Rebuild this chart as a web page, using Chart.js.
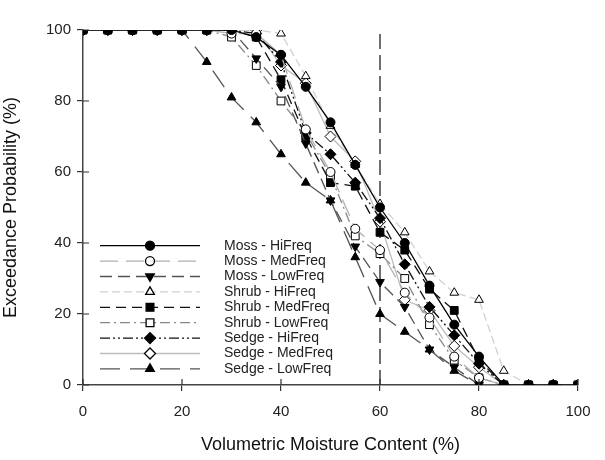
<!DOCTYPE html>
<html>
<head>
<meta charset="utf-8">
<script src="https://cdn.jsdelivr.net/npm/chart.js@4/dist/chart.umd.min.js"></script>
<style>
  html, body { margin: 0; padding: 0; background: #fff; }
  #wrap { width: 605px; height: 460px; }
</style>
</head>
<body>
<div id="wrap"><canvas id="chart" width="605" height="460"></canvas></div>
<script>
// Moisture content (%) for every point of every curve
const moisture = [0, 5, 10, 15, 20, 25, 30, 35, 40, 45, 50, 55, 60, 65, 70, 75, 80, 85, 90, 95, 100];

// Exceedance probability (%) per series
const mossHi   = [100, 100, 100, 100, 100, 100, 100, 98, 93, 84, 74, 62, 50, 40, 28, 17, 8, 0, 0, 0, 0];
const mossMed  = [100, 100, 100, 100, 100, 100, 99, 99, 93, 72, 60, 44, 38, 26, 19, 8, 2, 0, 0, 0, 0];
const mossLow  = [100, 100, 100, 100, 100, 100, 100, 92, 84, 68, 52, 39, 29, 22, 10, 5, 0, 0, 0, 0, 0];
const shrubHi  = [100, 100, 100, 100, 100, 100, 100, 100, 99, 87, 73, 62, 51, 43, 32, 26, 24, 4, 0, 0, 0];
const shrubMed = [100, 100, 100, 100, 100, 100, 100, 98, 86, 70, 57, 56, 43, 38, 27, 21, 7, 0, 0, 0, 0];
const shrubLow = [100, 100, 100, 100, 100, 100, 98, 90, 80, 71, 59, 42, 37, 30, 17, 7, 2, 0, 0, 0, 0];
const sedgeHi  = [100, 100, 100, 100, 100, 100, 100, 99, 91, 71, 65, 57, 47, 34, 22, 14, 6, 0, 0, 0, 0];
const sedgeMed = [100, 100, 100, 100, 100, 100, 100, 100, 90, 85, 70, 63, 46, 24, 21, 11, 5, 0, 0, 0, 0];
const sedgeLow = [100, 100, 100, 100, 100, 91, 81, 74, 65, 57, 52, 36, 20, 15, 10, 4, 0, 0, 0, 0, 0];

// reference line at 60 %
const refLineX = [60, 60];
const refLineY = [0, 100];

const xTicks = [0, 20, 40, 60, 80, 100];
const yTicks = [0, 20, 40, 60, 80, 100];

const FONT = '"Liberation Sans", Arial, sans-serif';

function pts(ys) {
    return ys.map((y, i) => ({ x: moisture[i], y: y }));
}

function series(label, ys, color, dash, style, filled, rot, r) {
    return {
        label: label,
        data: pts(ys),
        showLine: true,
        borderColor: color,
        borderWidth: 1.3,
        borderDash: dash,
        pointStyle: style,
        pointRotation: rot || 0,
        pointRadius: r || 4.5,
        pointHoverRadius: r || 4.5,
        pointBackgroundColor: filled ? '#000' : '#fff',
        pointBorderColor: '#000',
        pointBorderWidth: 1,
        tension: 0
    };
}

const datasets = [
    series('Moss - HiFreq', mossHi, '#000', [], 'circle', true),
    series('Moss - MedFreq', mossMed, '#b0b0b0', [18, 8], 'circle', false),
    series('Moss - LowFreq', mossLow, '#555', [12, 6], 'triangle', true, 180, 5),
    series('Shrub - HiFreq', shrubHi, '#d0d0d0', [8, 4], 'triangle', false, 0, 5),
    series('Shrub - MedFreq', shrubMed, '#111', [10, 6], 'rect', true, 0, 5.5),
    series('Shrub - LowFreq', shrubLow, '#888', [10, 4, 2, 4], 'rect', false, 0, 5.5),
    series('Sedge - HiFreq', sedgeHi, '#111', [10, 3, 2, 3, 2, 3], 'rectRot', true, 0, 5.5),
    series('Sedge - MedFreq', sedgeMed, '#bdbdbd', [], 'rectRot', false, 0, 5.5),
    series('Sedge - LowFreq', sedgeLow, '#555', [20, 10], 'triangle', true, 0, 5)
];

datasets.push({
    label: '',
    data: refLineX.map((x, i) => ({ x: x, y: refLineY[i] })),
    showLine: true,
    borderColor: '#222',
    borderWidth: 1.3,
    borderDash: [15, 6],
    pointRadius: 0,
    pointHoverRadius: 0
});

// inward half of the tick marks
const innerTicks = {
    id: 'innerTicks',
    afterDatasetsDraw(chart) {
        const { ctx, chartArea, scales } = chart;
        ctx.save();
        ctx.strokeStyle = '#333';
        ctx.lineWidth = 1.2;
        ctx.beginPath();
        xTicks.forEach(v => {
            const px = scales.x.getPixelForValue(v);
            ctx.moveTo(px, chartArea.bottom);
            ctx.lineTo(px, chartArea.bottom - 6);
        });
        yTicks.forEach(v => {
            const py = scales.y.getPixelForValue(v);
            ctx.moveTo(chartArea.left, py);
            ctx.lineTo(chartArea.left + 6, py);
        });
        ctx.stroke();
        ctx.restore();
    }
};

// legend drawn inside the plot: line sample, marker, label
const insideLegend = {
    id: 'insideLegend',
    afterDraw(chart) {
        const { ctx, chartArea } = chart;
        const x0 = chartArea.left + 17;
        const x1 = chartArea.left + 117;
        const xm = chartArea.left + 67;
        const xt = chartArea.left + 141;
        let y = chartArea.top + 215.7;
        ctx.save();
        chart.data.datasets.forEach(ds => {
            if (!ds.label) return;
            ctx.strokeStyle = ds.borderColor;
            ctx.lineWidth = ds.borderWidth;
            ctx.setLineDash(ds.borderDash);
            ctx.beginPath();
            ctx.moveTo(x0, y);
            ctx.lineTo(x1, y);
            ctx.stroke();
            ctx.setLineDash([]);
            ctx.fillStyle = ds.pointBackgroundColor;
            ctx.strokeStyle = ds.pointBorderColor;
            Chart.helpers.drawPoint(ctx, {
                pointStyle: ds.pointStyle,
                rotation: ds.pointRotation,
                radius: ds.pointRadius,
                borderWidth: 1
            }, xm, y);
            ctx.fillStyle = '#222';
            ctx.font = '14px ' + FONT;
            ctx.textBaseline = 'middle';
            ctx.fillText(ds.label, xt, y);
            y += 15.4;
        });
        ctx.restore();
    }
};

new Chart(document.getElementById('chart'), {
    type: 'scatter',
    data: { datasets: datasets },
    plugins: [innerTicks, insideLegend],
    options: {
        responsive: false,
        animation: false,
        layout: { padding: { left: 0, right: 27, top: 30, bottom: 0 } },
        plugins: {
            legend: { display: false },
            tooltip: { enabled: false }
        },
        scales: {
            x: {
                type: 'linear',
                min: 0,
                max: 100,
                afterBuildTicks: (s) => { s.ticks = xTicks.map(v => ({ value: v })); },
                afterFit: (s) => { s.height = 75; },
                border: { color: '#444', width: 1.5 },
                grid: { drawOnChartArea: false, tickLength: 6, color: '#333', lineWidth: 1.2 },
                ticks: { color: '#222', font: { size: 15, family: FONT }, padding: 12 },
                title: {
                    display: true,
                    text: 'Volumetric Moisture Content (%)',
                    color: '#111',
                    font: { size: 18, family: FONT },
                    padding: { top: 6 }
                }
            },
            y: {
                type: 'linear',
                min: 0,
                max: 100,
                afterBuildTicks: (s) => { s.ticks = yTicks.map(v => ({ value: v })); },
                afterFit: (s) => { s.width = 83; },
                border: { color: '#444', width: 1.5 },
                grid: { drawOnChartArea: false, tickLength: 6, color: '#333', lineWidth: 1.2 },
                ticks: { color: '#222', font: { size: 15, family: FONT }, padding: 6 },
                title: {
                    display: true,
                    text: 'Exceedance Probability (%)',
                    color: '#111',
                    font: { size: 18, family: FONT },
                    padding: { top: 0, bottom: 0 }
                }
            }
        }
    }
});
</script>
</body>
</html>
